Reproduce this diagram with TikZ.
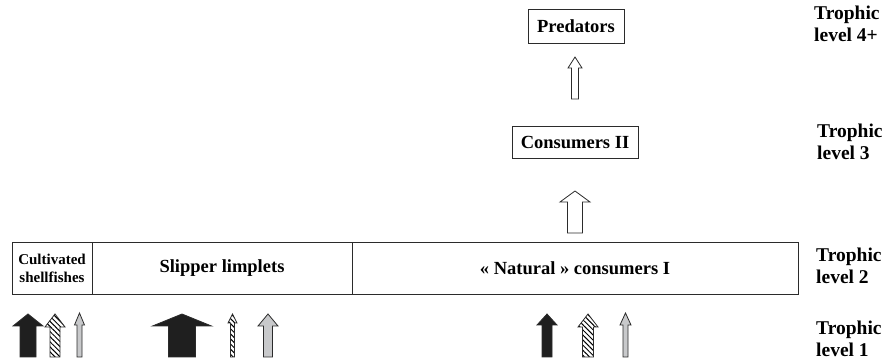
\documentclass[tikz,border=0pt]{standalone}
\usepackage{fontspec}
\setmainfont{Liberation Serif}
\usepackage{tikz}
\usetikzlibrary{patterns.meta}
\definecolor{edge}{HTML}{2B2B2B}
\definecolor{grey}{HTML}{C8C9CB}
\tikzset{
  box/.style={draw=edge, line width=0.9pt, inner sep=0pt, font=\bfseries\fontsize{18.5}{20}\selectfont},
  cell/.style={draw=edge, line width=0.9pt, inner sep=0pt, minimum height=52pt, font=\bfseries\fontsize{18.5}{20}\selectfont},
  lvl/.style={anchor=west, align=left, inner sep=0pt, font=\bfseries\fontsize{19.5}{22}\selectfont},
  blackarr/.style={draw=edge, fill=black!88, line width=0.8pt, line join=miter},
  hatcharr/.style={draw=edge, line width=0.8pt, pattern={Lines[angle=-45, distance=3.6pt, line width=1pt]}},
  greyarr/.style={draw=edge, fill=grey, line width=0.8pt},
  openarr/.style={draw=edge, fill=white, line width=0.8pt},
}
% block arrow pointing up: x, shaft half width, head half width, tip, head base, foot, style
\newcommand\trarrow[7]{%
  \draw[#7] ({#1-#2},#6) -- ({#1-#2},#5) -- ({#1-#3},#5) -- (#1,#4)
    -- ({#1+#3},#5) -- ({#1+#2},#5) -- ({#1+#2},#6) -- cycle;}
\begin{document}
\begin{tikzpicture}[x=1pt,y=-1pt]
  \useasboundingbox (0,0) rectangle (884,363);

  % upper levels
  \node[box, minimum width=96pt, minimum height=34pt] (pred) at (576,26) {Predators};
  \node[box, minimum width=126pt, minimum height=32pt] (cons) at (575,142) {Consumers II};
  \trarrow{575}{3.5}{7}{57}{68}{99}{openarr}
  \trarrow{575}{7.5}{15}{191}{202}{233}{openarr}

  % level 2 bar
  \node[cell, minimum width=80pt, font=\bfseries\fontsize{15}{18}\selectfont, align=center] (cult) at (52,268) {Cultivated\\shellfishes};
  \node[cell, minimum width=260pt] (slip) at (222,268) {Slipper limplets};
  \node[cell, minimum width=446pt] (natl) at (575,268) {« Natural » consumers I};

  % level 1 inputs
  \trarrow{28}{8}{15}{314}{326}{357}{blackarr}
  \trarrow{55}{5}{10}{314}{327}{357}{hatcharr}
  \trarrow{79.5}{2.5}{5}{313}{325}{357}{greyarr}
  \trarrow{182}{13.5}{29.5}{314}{326}{357}{blackarr}
  \trarrow{232.5}{2}{4.5}{314}{323}{357}{hatcharr}
  \trarrow{268}{4.5}{10}{314}{326}{357}{greyarr}
  \trarrow{547}{5}{10}{314}{325}{357}{blackarr}
  \trarrow{588}{5.5}{10}{314}{327}{357}{hatcharr}
  \trarrow{625.5}{2.5}{5.5}{313}{325}{357}{greyarr}

  % level labels
  \node[lvl] (lv4) at (814,24) {Trophic\\level 4+};
  \node[lvl] (lv3) at (817,142) {Trophic\\level 3};
  \node[lvl] (lv2) at (816,266) {Trophic\\level 2};
  \node[lvl] (lv1) at (816,339) {Trophic\\level 1};
\end{tikzpicture}
\end{document}
